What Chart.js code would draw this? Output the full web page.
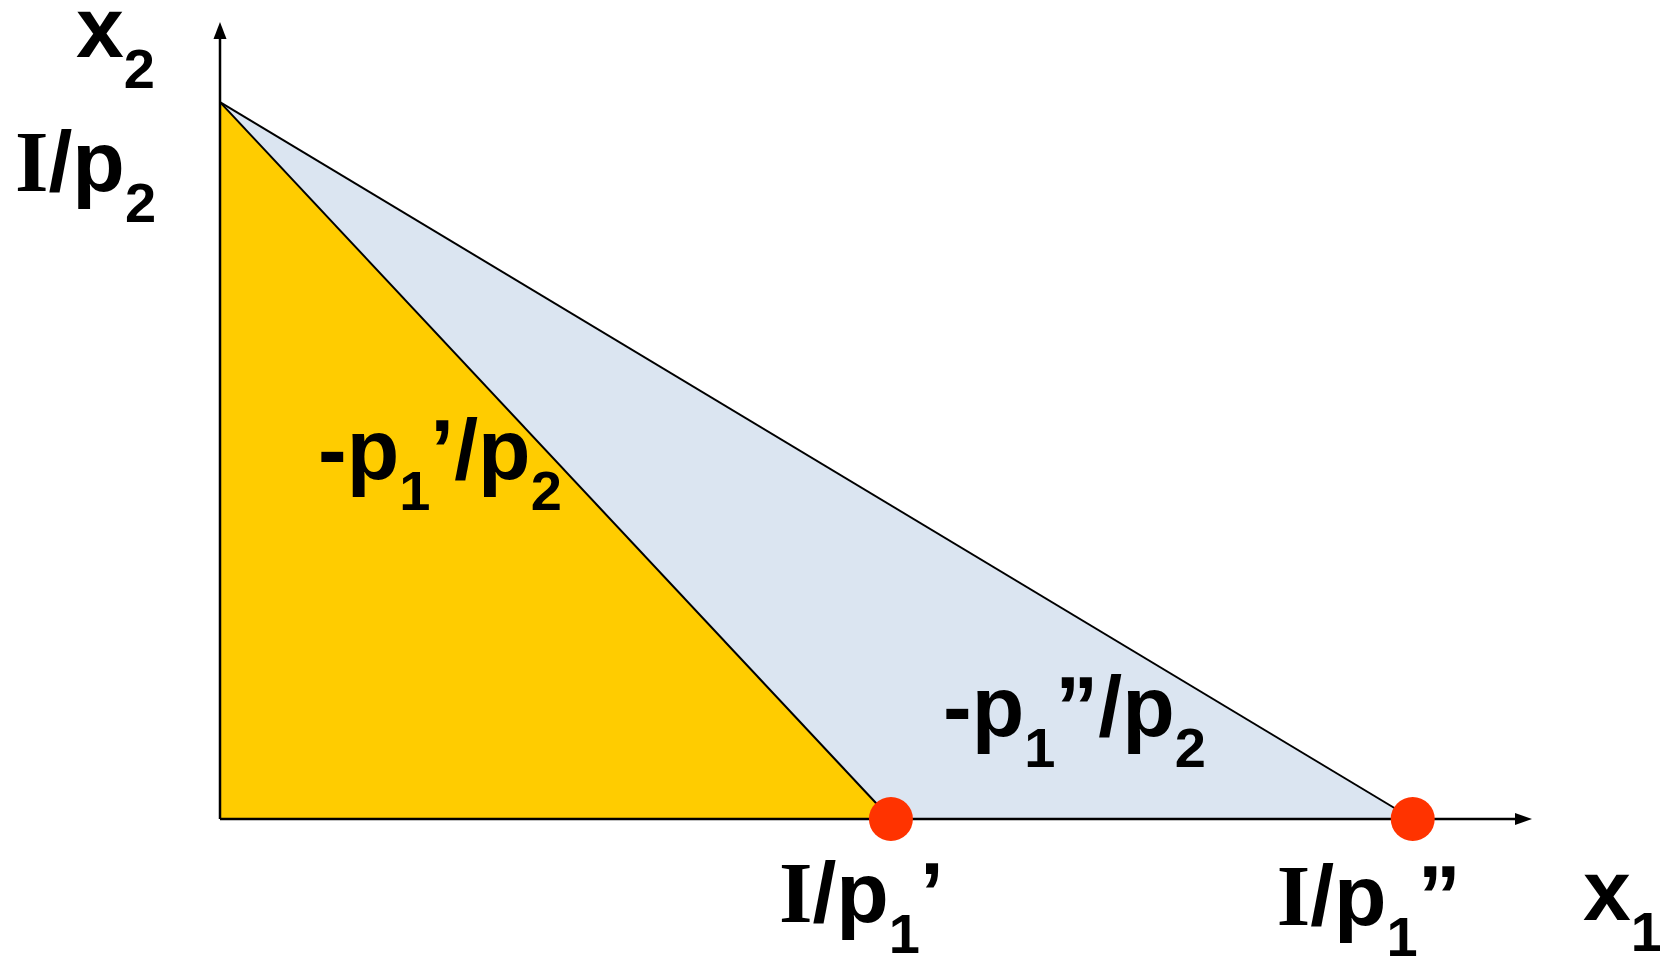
<!DOCTYPE html>
<html lang="en">
<head>
<meta charset="utf-8">
<style>
    html, body { margin: 0; padding: 0; background: #ffffff; }
    #wrap { width: 1660px; height: 959px; position: relative; }
</style>
</head>
<body>
<div id="wrap">
    <canvas id="myChart"></canvas>
</div>

<script src="https://cdn.jsdelivr.net/npm/chart.js"></script>
<script>
    // budget line values (units)
    const incomeOverP2 = [6, 6];            // I/p2, same for both lines
    const incomeOverP1 = [4.5, 8];          // I/p1' and I/p1''
    const axisMax = [8.8, 6.67];            // x1 and x2 ends (arrow tips)
    const slopeLabels = ["-p1'/p2", "-p1''/p2"];
    const interceptLabels = ["I/p1'", "I/p1''"];

    const SANS = '"Liberation Sans", Arial, sans-serif';
    const SERIF = '"Liberation Serif", "Times New Roman", serif';

    // draws a label made of pieces: {t, sub, serif}
    function drawRich(ctx, x, y, parts) {
        parts.forEach(function (p) {
            var size = p.sub ? 56 : 86;
            ctx.font = 'bold ' + size + 'px ' + (p.serif ? SERIF : SANS);
            ctx.fillText(p.t, x, p.sub ? y + 31 : y);
            x += ctx.measureText(p.t).width;
        });
    }

    const axesPlugin = {
        id: 'axes',
        beforeDatasetDraw: function (chart, args) {
            if (args.index !== 0) return;
            var ctx = chart.ctx;
            var xs = chart.scales.x, ys = chart.scales.y;
            var x0 = xs.getPixelForValue(0), y0 = ys.getPixelForValue(0);
            var xEnd = xs.getPixelForValue(axisMax[0]);
            var yEnd = ys.getPixelForValue(axisMax[1]);
            ctx.save();
            ctx.strokeStyle = '#000';
            ctx.fillStyle = '#000';
            ctx.lineWidth = 2.5;
            ctx.beginPath();
            ctx.moveTo(x0, y0);
            ctx.lineTo(xEnd - 10, y0);
            ctx.moveTo(x0, y0);
            ctx.lineTo(x0, yEnd + 10);
            ctx.stroke();
            // arrow heads
            ctx.beginPath();
            ctx.moveTo(xEnd, y0);
            ctx.lineTo(xEnd - 17, y0 - 6);
            ctx.lineTo(xEnd - 17, y0 + 6);
            ctx.closePath();
            ctx.fill();
            ctx.beginPath();
            ctx.moveTo(x0, yEnd);
            ctx.lineTo(x0 - 6.5, yEnd + 17);
            ctx.lineTo(x0 + 6.5, yEnd + 17);
            ctx.closePath();
            ctx.fill();
            ctx.restore();
        },
        afterDraw: function (chart) {
            var ctx = chart.ctx;
            var xs = chart.scales.x, ys = chart.scales.y;
            var x0 = xs.getPixelForValue(0), y0 = ys.getPixelForValue(0);
            var yTop = ys.getPixelForValue(axisMax[1]);
            var yI = ys.getPixelForValue(incomeOverP2[0]);
            var xA = xs.getPixelForValue(incomeOverP1[0]);
            var xB = xs.getPixelForValue(incomeOverP1[1]);
            var xEnd = xs.getPixelForValue(axisMax[0]);
            ctx.save();
            ctx.fillStyle = '#000';
            ctx.textBaseline = 'alphabetic';
            ctx.textAlign = 'left';

            drawRich(ctx, x0 - 144, yTop + 35, [{t: 'x'}, {t: '2', sub: true}]);
            drawRich(ctx, x0 - 205, yI + 89, [{t: 'I', serif: true}, {t: '/p'}, {t: '2', sub: true}]);

            drawRich(ctx, 318, 479, [{t: '-p'}, {t: '1', sub: true}, {t: '\u2019/p'}, {t: '2', sub: true}]);
            drawRich(ctx, 943, 736, [{t: '-p'}, {t: '1', sub: true}, {t: '\u201D/p'}, {t: '2', sub: true}]);

            drawRich(ctx, xA - 112, y0 + 103, [{t: 'I', serif: true}, {t: '/p'}, {t: '1', sub: true}, {t: '\u2019'}]);
            drawRich(ctx, xB - 136, y0 + 106, [{t: 'I', serif: true}, {t: '/p'}, {t: '1', sub: true}, {t: '\u201D'}]);

            drawRich(ctx, xEnd + 51, y0 + 101, [{t: 'x'}, {t: '1', sub: true}]);
            ctx.restore();
        }
    };

    var datasets = [
        {
            label: 'intercepts',
            data: incomeOverP1.map(function (v) { return {x: v, y: 0}; }),
            showLine: false,
            pointRadius: 22,
            pointHoverRadius: 22,
            pointBackgroundColor: '#FF3300',
            pointBorderWidth: 0,
            clip: false
        },
        {
            label: slopeLabels[0],
            data: [{x: 0, y: incomeOverP2[0]}, {x: incomeOverP1[0], y: 0}],
            showLine: true,
            borderColor: '#000',
            borderWidth: 2,
            backgroundColor: '#FFCC00',
            fill: 'origin',
            pointRadius: 0,
            tension: 0,
            clip: false
        },
        {
            label: slopeLabels[1],
            data: [{x: 0, y: incomeOverP2[1]}, {x: incomeOverP1[1], y: 0}],
            showLine: true,
            borderColor: '#000',
            borderWidth: 2,
            backgroundColor: '#DBE5F1',
            fill: 'origin',
            pointRadius: 0,
            tension: 0,
            clip: false
        }
    ];

    var myChart = new Chart(document.getElementById('myChart'), {
        type: 'scatter',
        data: {datasets: datasets},
        options: {
            responsive: true,
            maintainAspectRatio: false,
            animation: false,
            events: [],
            layout: {padding: {left: 220, right: 128, top: 22, bottom: 140}},
            plugins: {
                legend: {display: false},
                tooltip: {enabled: false},
                title: {display: false}
            },
            scales: {
                x: {type: 'linear', min: 0, max: axisMax[0], display: false},
                y: {type: 'linear', min: 0, max: axisMax[1], display: false}
            }
        },
        plugins: [axesPlugin]
    });
</script>
</body>
</html>
